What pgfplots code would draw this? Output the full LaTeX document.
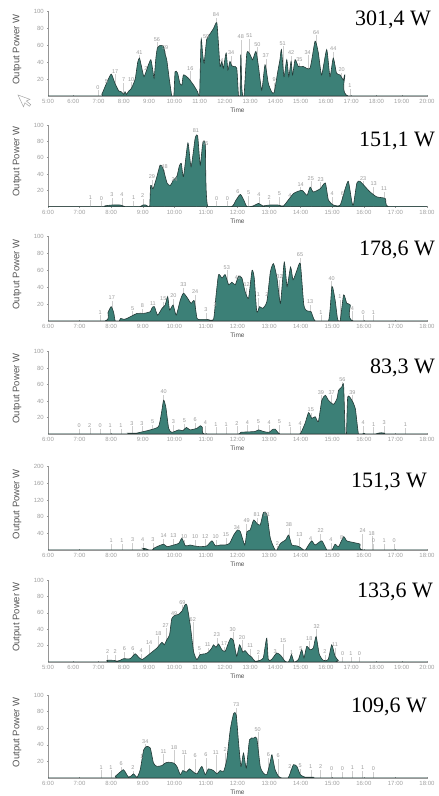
\documentclass[border=0pt]{standalone}
\usepackage{fontspec}
\setmainfont{Liberation Sans}
\newfontfamily\bigserif{Liberation Serif}
\usepackage{pgfplots}
\usepackage{pgfplotstable}
\pgfplotsset{compat=1.18}

\definecolor{areafill}{RGB}{60,128,119}
\definecolor{arealine}{RGB}{35,58,55}
\definecolor{tickgray}{RGB}{160,160,160}
\definecolor{axisgray}{RGB}{150,150,150}
\definecolor{labelgray}{RGB}{155,155,155}
\definecolor{stemgray}{RGB}{205,205,205}
\definecolor{titlegray}{RGB}{85,85,85}

% value labels of each day: time, label height, shown value
\pgfplotstableread{
x y t
6.98 10.3 0
7.31 17 5
7.66 29 17
7.99 19 7
8.29 20 10
8.62 52 41
8.87 33 2
9.31 67 56
9.64 57 59
10.63 33 16
11.26 71 59
11.65 96 84
11.88 41.6 4
12.25 51.5 34
12.63 70.5 48
12.97 71.3 51
13.29 61.4 50
13.62 47.5 37
13.95 19 9
14.29 62.6 51
14.62 51.5 42
14.95 42.8 35
15.28 51.9 34
15.61 75.6 64
16.29 55.8 44
16.62 30.9 20
16.95 11.9 1
}\labA
\pgfplotstableread{
x y t
7.34 11.4 1
7.69 10.2 0
8.02 14.3 3
8.34 14.3 4
8.71 11 1
9.0 13.5 2
9.29 36.7 29
9.69 49 48
10.01 32.7 24
10.68 93 81
10.98 77.6 65
11.34 10.2 0
11.68 10.2 0
12.01 18.4 6
12.35 17.1 5
12.68 15.1 4
13.0 11.4 2
13.33 15.5 5
13.66 13.1 4
14.0 27.3 14
14.32 34.7 25
14.63 33.5 23
15.0 15.5 4
15.32 16.3 6
15.98 34.7 23
16.31 27.8 13
16.64 21.6 11
}\labB
\pgfplotstableread{
x y t
7.65 10.3 1
8.02 27.7 17
8.68 15 5
8.99 18.2 8
9.32 20.2 11
9.65 26 15
9.97 29.6 20
10.29 42.7 33
10.66 34.8 24
11.0 13 3
11.29 19 3
11.66 63.6 53
12.01 51.8 42
12.29 42.7 12
12.66 30.8 1
12.93 30.8 2
13.33 52.6 32
13.98 78.3 65
14.3 22.9 13
14.64 10.3 1
14.98 50.6 40
15.24 28.9 1
15.64 15 4
15.98 10.3 0
16.3 10.3 1
}\labC
\pgfplotstableread{
x y t
6.99 9.7 0
7.32 10.5 2
7.65 9.7 0
7.97 10.1 1
8.31 10.1 1
8.66 13 3
8.97 13 3
9.31 15 5
9.66 51.4 40
9.97 15 3
10.32 16.2 5
10.66 17 6
10.98 13.8 4
11.32 11.7 1
11.64 11.7 1
11.98 13 2
12.31 14.2 4
12.66 15 5
13.0 14.2 4
13.33 15 5
13.66 11.7 1
13.98 13 4
14.32 29.1 15
14.64 50.6 39
14.98 50.6 37
15.32 66.4 56
15.64 50.6 39
15.98 13.8 4
16.31 11.7 1
16.64 13.8 3
17.32 10.9 1
}\labD
\pgfplotstableread{
x y t
8.0 21.6 1
8.34 22.4 1
8.68 24 3
9.0 24 4
9.32 24 3
9.66 34.4 14
9.97 34.4 13
10.31 31.2 10
10.66 31.2 10
10.98 32.8 12
11.31 31.2 10
11.63 36 15
11.98 53.6 34
12.29 70.4 49
12.61 84 81
12.93 84 81
13.26 16 2
13.63 60 38
13.96 36 13
14.32 26.4 4
14.63 45.6 22
14.96 24 4
15.3 30.4 8
15.96 45.6 24
16.25 40 18
16.3 21.6 0
16.64 21.6 1
16.96 21.6 0
}\labE
\pgfplotstableread{
x y t
7.36 12.1 2
7.66 12.1 2
8.02 15.8 6
8.36 15.8 6
8.69 13.8 4
9.0 23.9 14
9.37 35.2 18
9.66 44.5 27
9.99 59.5 49
10.32 72.5 69
10.73 52.2 62
10.99 15.8 5
11.32 21 11
11.68 33.2 23
11.97 22.3 17
12.31 40.1 30
12.68 30 20
13.0 19.8 11
13.33 11.7 2
13.99 12.1 3
14.31 25.9 15
14.64 10.9 1
15.01 15.8 5
15.34 29.1 18
15.63 43.3 32
15.96 12.1 2
16.36 21 11
16.66 9.7 0
16.99 9.7 1
17.32 9.7 0
}\labF
\pgfplotstableread{
x y t
7.68 12.8 1
7.99 12.8 1
8.32 16.8 6
8.69 12 2
8.97 26 1
9.08 44 34
9.66 32 11
9.99 36.8 18
10.32 30.8 11
10.66 26.8 6
11.0 28 6
11.31 30.8 11
11.61 34 2
11.96 88 73
12.64 58.8 50
12.98 28 6
13.29 26.8 6
13.66 13.2 2
13.98 14.8 5
14.32 13.2 1
14.63 13.2 2
14.98 10.8 0
15.32 10.8 0
15.64 12 1
15.96 12 1
16.3 10.8 0
}\labG

\pgfplotsset{
  panel/.style={
    scale only axis, width=379pt, anchor=south west, ymin=0,
    axis x line=bottom, axis y line=left,
    axis line style={-, draw=axisgray, line width=0.8pt},
    tick style={draw=axisgray, line width=0.4pt}, major tick length=2pt,
    tick label style={font=\fontsize{6}{6.5}\selectfont, text=tickgray},
    /pgf/number format/assume math mode=true,
    xticklabel style={anchor=center, yshift=-4.5pt},
    yticklabel style={anchor=east, inner sep=0pt, xshift=-3pt},
    xlabel={Time}, ylabel={Output Power W},
    xlabel style={at={(axis description cs:0.5,0)}, anchor=center, yshift=-14pt,
      font=\fontsize{6.5}{7}\selectfont, text=titlegray},
    ylabel style={at={(axis description cs:-0.082,0.55)}, anchor=center,
      font=\fontsize{9.5}{10}\selectfont, text=titlegray},
  },
  longday/.style={xmin=5, xmax=20, xtick={5,...,20},
    xticklabels={5:00,6:00,7:00,8:00,9:00,10:00,11:00,12:00,13:00,14:00,15:00,16:00,17:00,18:00,19:00,20:00}},
  shortday/.style={xmin=6, xmax=18, xtick={6,...,18},
    xticklabels={6:00,7:00,8:00,9:00,10:00,11:00,12:00,13:00,14:00,15:00,16:00,17:00,18:00}},
  area/.style={fill=areafill, draw=arealine, line width=0.6pt, smooth, tension=0.35},
  stems/.style={ycomb, draw=stemgray, line width=0.35pt, mark=none},
  vals/.style={only marks, mark=none, nodes near coords, point meta=explicit symbolic,
    nodes near coords style={anchor=center, inner sep=0pt,
      font=\fontsize{5.5}{5.5}\selectfont, text=labelgray}},
}

\begin{document}
\begin{tikzpicture}
\path[use as bounding box] (0,0) rectangle (439pt,796pt);

% ---- day 1 ----
\begin{axis}[panel, longday, at={(48pt,700pt)}, height=84.3pt, ymax=100, ytick={20,40,60,80,100}]
\addplot[stems, y filter/.expression={y-3.5}] table[x=x, y=y] {\labA};
\addplot[vals] table[x=x, y=y, meta=t] {\labA};
\addplot[area] coordinates {
 (5,0) (7.05,0) (7.13,2) (7.3,14) (7.5,26) (7.65,15) (7.8,6) (7.9,5) (8.0,2) (8.05,5)
 (8.1,2) (8.2,6) (8.3,9) (8.45,20) (8.55,40) (8.62,45) (8.7,35) (8.8,23) (8.95,35)
 (9.07,43) (9.15,30) (9.2,21) (9.27,45) (9.33,57) (9.44,60) (9.57,59) (9.64,49) (9.7,43)
 (9.8,20) (9.9,0) (9.98,0) (10.03,29) (10.13,27) (10.22,15) (10.3,13) (10.36,25)
 (10.56,21) (10.76,13) (10.92,5) (10.97,0) (11.0,0) (11.06,67) (11.12,50) (11.18,39)
 (11.28,67) (11.42,74) (11.55,80) (11.68,87) (11.75,60) (11.81,35) (11.88,41) (11.94,33)
 (12.05,51) (12.12,31) (12.2,41) (12.27,36) (12.34,35) (12.47,33) (12.54,0) (12.6,0)
 (12.63,49) (12.67,10) (12.71,0) (12.76,0) (12.87,51) (13.0,49) (13.1,43) (13.23,53)
 (13.33,35) (13.46,7) (13.59,37) (13.72,15) (13.85,5) (13.95,4) (14.1,30) (14.18,43)
 (14.24,55) (14.34,23) (14.45,43) (14.53,23) (14.62,41) (14.68,25) (14.78,43) (14.91,35)
 (15.1,35) (15.37,33) (15.57,65) (15.7,51) (15.83,25) (16.03,55) (16.16,23) (16.29,45)
 (16.42,27) (16.56,25) (16.69,19) (16.75,25) (16.88,0) (20,0)
} \closedcycle;
\end{axis}

% ---- day 2 ----
\begin{axis}[panel, shortday, at={(48pt,589.3pt)}, height=81.7pt, ymax=100, ytick={20,40,60,80,100}]
\addplot[stems, y filter/.expression={y-3.5}] table[x=x, y=y] {\labB};
\addplot[vals] table[x=x, y=y, meta=t] {\labB};
\addplot[area] coordinates {
 (6,0) (7.7,0) (7.8,1) (8.0,2) (8.3,2) (8.45,0) (8.9,0) (9.0,2) (9.1,2) (9.18,0)
 (9.22,0) (9.25,26) (9.29,24) (9.33,22) (9.45,37) (9.55,51) (9.64,47) (9.77,29)
 (9.87,26) (9.98,33) (10.08,37) (10.16,50) (10.22,53) (10.29,37) (10.43,78) (10.53,49)
 (10.66,84) (10.74,86) (10.82,51) (10.9,78) (10.98,76) (11.06,0) (11.8,0) (11.95,8)
 (12.09,15) (12.2,8) (12.3,0) (12.5,1) (12.67,4) (12.8,1) (13.0,2) (13.3,2) (13.46,1)
 (13.77,16) (14.04,20) (14.2,14) (14.3,24) (14.4,18) (14.62,22) (14.78,29) (14.88,8)
 (15.04,2) (15.25,2) (15.41,22) (15.51,31) (15.62,6) (15.67,2) (15.78,29) (15.88,31)
 (16.1,22) (16.2,18) (16.41,12) (16.68,10) (16.78,0) (18,0)
} \closedcycle;
\end{axis}

% ---- day 3 ----
\begin{axis}[panel, shortday, at={(48pt,475pt)}, height=84.3pt, ymax=100, ytick={20,40,60,80,100}]
\addplot[stems, y filter/.expression={y-3.5}] table[x=x, y=y] {\labC};
\addplot[vals] table[x=x, y=y, meta=t] {\labC};
\addplot[area] coordinates {
 (6,0) (7.8,0) (7.9,10) (8.0,17) (8.08,10) (8.13,0) (8.25,0) (8.3,3) (8.4,2) (8.5,3)
 (8.82,9) (9.03,9) (9.15,10) (9.24,11) (9.3,16) (9.37,17) (9.47,7) (9.61,15) (9.71,19)
 (9.79,29) (9.85,13) (9.96,19) (10.06,7) (10.19,25) (10.29,33) (10.42,27) (10.53,21)
 (10.63,24) (10.72,3) (10.82,2) (11.03,2) (11.24,2) (11.32,30) (11.4,55) (11.51,51)
 (11.61,55) (11.72,43) (11.82,46) (11.93,43) (12.03,53) (12.14,51) (12.24,35) (12.35,27)
 (12.46,60) (12.53,51) (12.61,11) (12.7,17) (12.8,15) (12.93,23) (13.04,58) (13.14,68)
 (13.25,51) (13.36,21) (13.48,70) (13.57,41) (13.68,64) (13.76,49) (13.88,60) (13.99,68)
 (14.1,19) (14.2,12) (14.33,11) (14.46,0) (14.88,0) (14.99,41) (15.09,25) (15.17,2)
 (15.25,0) (15.36,31) (15.46,21) (15.57,19) (15.67,0) (18,0)
} \closedcycle;
\end{axis}

% ---- day 4 ----
\begin{axis}[panel, shortday, at={(48pt,362pt)}, height=82.3pt, ymax=100, ytick={20,40,60,80,100}]
\addplot[stems, y filter/.expression={y-3.5}] table[x=x, y=y] {\labD};
\addplot[vals] table[x=x, y=y, meta=t] {\labD};
\addplot[area] coordinates {
 (6,0) (8.5,0) (8.55,1) (8.8,1) (8.92,2) (9.24,5) (9.5,9) (9.59,25) (9.66,41) (9.73,33)
 (9.82,7) (9.92,2) (10.14,5) (10.27,4) (10.38,8) (10.5,5) (10.72,7) (10.82,10) (10.89,8)
 (10.95,0) (12.0,0) (12.1,2) (12.3,2.5) (12.55,3) (12.67,5) (12.82,3) (13.0,2) (13.09,5)
 (13.19,6) (13.35,0) (13.9,0) (14.0,1) (14.14,13) (14.25,26) (14.35,19) (14.46,21)
 (14.56,15) (14.67,41) (14.78,47) (14.88,41) (15.04,36) (15.15,43) (15.2,53) (15.3,57)
 (15.36,59) (15.41,0) (15.45,0) (15.49,45) (15.62,41) (15.73,31) (15.83,0) (15.95,0)
 (16.0,1) (16.05,0) (16.35,0) (16.45,1) (16.55,1.5) (16.65,1) (16.7,0) (18,0)
} \closedcycle;
\end{axis}

% ---- day 5 ----
\begin{axis}[panel, shortday, at={(48pt,246pt)}, height=83.3pt, ymax=200, ytick={40,80,120,160,200}]
\addplot[stems, y filter/.expression={y-7}] table[x=x, y=y] {\labE};
\addplot[vals] table[x=x, y=y, meta=t] {\labE};
\addplot[area] coordinates {
 (6,0) (8.9,0) (9.0,4) (9.1,3) (9.2,0) (9.3,0) (9.35,4) (9.45,8) (9.66,14) (9.77,8)
 (9.98,12) (10.14,16) (10.24,28) (10.35,10) (10.5,12) (10.61,10) (10.82,8) (11.03,10)
 (11.19,22) (11.3,10) (11.45,12) (11.61,12) (11.75,16) (11.88,36) (12.0,48) (12.09,44)
 (12.23,12) (12.3,44) (12.4,48) (12.51,72) (12.61,64) (12.72,60) (12.82,90) (12.93,86)
 (13.04,28) (13.19,0) (13.25,0) (13.36,16) (13.52,24) (13.62,36) (13.72,12) (13.88,10)
 (13.99,6) (14.1,0) (14.15,0) (14.25,12) (14.35,22) (14.46,12) (14.67,22) (14.83,0)
 (14.99,0) (15.09,14) (15.2,8) (15.36,32) (15.46,22) (15.67,18) (15.88,14) (15.99,0) (18,0)
} \closedcycle;
\end{axis}

% ---- day 6 ----
\begin{axis}[panel, longday, at={(48pt,134pt)}, height=82pt, ymax=100, ytick={20,40,60,80,100}]
\addplot[stems, y filter/.expression={y-3.5}] table[x=x, y=y] {\labF};
\addplot[vals] table[x=x, y=y, meta=t] {\labF};
\addplot[area] coordinates {
 (5,0) (7.25,0) (7.33,2) (7.6,2) (7.73,1) (7.85,2) (7.99,4) (8.25,4) (8.45,10) (8.58,6)
 (8.72,3) (8.91,7) (9.11,12) (9.31,17) (9.51,24) (9.6,21) (9.7,27) (9.81,33) (9.9,53)
 (10.03,57) (10.16,58) (10.3,62) (10.43,70) (10.5,69) (10.63,45) (10.76,13) (10.89,3)
 (11.02,9) (11.22,10) (11.35,12) (11.48,17) (11.55,21) (11.65,18) (11.75,22) (11.88,15)
 (12.01,13) (12.14,23) (12.23,29) (12.34,26) (12.47,7) (12.58,21) (12.71,12) (12.8,14)
 (12.93,9) (13.06,6) (13.19,1) (13.39,2) (13.52,5) (13.6,20) (13.66,29) (13.72,3)
 (13.85,3) (14.05,11) (14.21,8) (14.38,1) (14.51,0) (14.58,4) (14.64,9) (14.74,0)
 (14.91,3) (15.04,15) (15.13,5) (15.24,19) (15.37,15) (15.5,17) (15.61,31) (15.74,9)
 (15.9,2) (16.09,3) (16.23,21) (16.36,7) (16.49,2) (16.56,0) (20,0)
} \closedcycle;
\end{axis}

% ---- day 7 ----
\begin{axis}[panel, shortday, at={(48pt,18pt)}, height=83pt, ymax=100, ytick={20,40,60,80,100}]
\addplot[stems, y filter/.expression={y-3.5}] table[x=x, y=y] {\labG};
\addplot[vals] table[x=x, y=y, meta=t] {\labG};
\addplot[area] coordinates {
 (6,0) (8.05,0) (8.13,2) (8.25,6) (8.39,10) (8.48,5) (8.55,1) (8.65,3) (8.71,5) (8.82,1)
 (8.92,10) (9.03,34) (9.13,38) (9.24,36) (9.34,18) (9.45,14) (9.61,15) (9.71,18)
 (9.82,19) (9.98,18) (10.08,14) (10.19,4) (10.27,9) (10.38,7) (10.48,11) (10.61,7)
 (10.72,5) (10.87,14) (10.98,4) (11.08,11) (11.24,9) (11.35,5) (11.45,9) (11.56,8)
 (11.66,22) (11.77,58) (11.88,78) (11.96,76) (12.03,44) (12.11,14) (12.19,30) (12.28,12)
 (12.38,46) (12.51,48) (12.61,48) (12.72,14) (12.82,6) (12.93,4) (13.04,20) (13.09,28)
 (13.19,10) (13.3,2) (13.41,0) (13.6,0) (13.67,6) (13.77,16) (13.88,14) (13.99,4)
 (14.14,1) (14.4,1) (14.62,0) (18,0)
} \closedcycle;
\end{axis}

% daily totals
\begin{scope}[every node/.style={font=\bigserif\fontsize{22}{22}\selectfont, inner sep=0pt}]
\node[anchor=base east] at (431pt,770.5pt) {301,4 W};
\node[anchor=base east] at (435pt,649.3pt) {151,1 W};
\node[anchor=base east] at (435pt,540.5pt) {178,6 W};
\node[anchor=base west] at (370pt,422pt) {83,3 W};
\node[anchor=base east] at (427pt,308.3pt) {151,3 W};
\node[anchor=base east] at (433pt,198pt) {133,6 W};
\node[anchor=base east] at (427pt,83pt) {109,6 W};
\end{scope}

% mouse pointer left in the screenshot
\draw[gray!70, line width=0.5pt, fill=white, rotate around={25:(18pt,701pt)}]
  (18pt,701pt) -- (18pt,688pt) -- (21pt,691pt) -- (23.5pt,686pt) -- (25.5pt,687pt)
  -- (23pt,692pt) -- (27pt,692pt) -- cycle;
\end{tikzpicture}
\end{document}
